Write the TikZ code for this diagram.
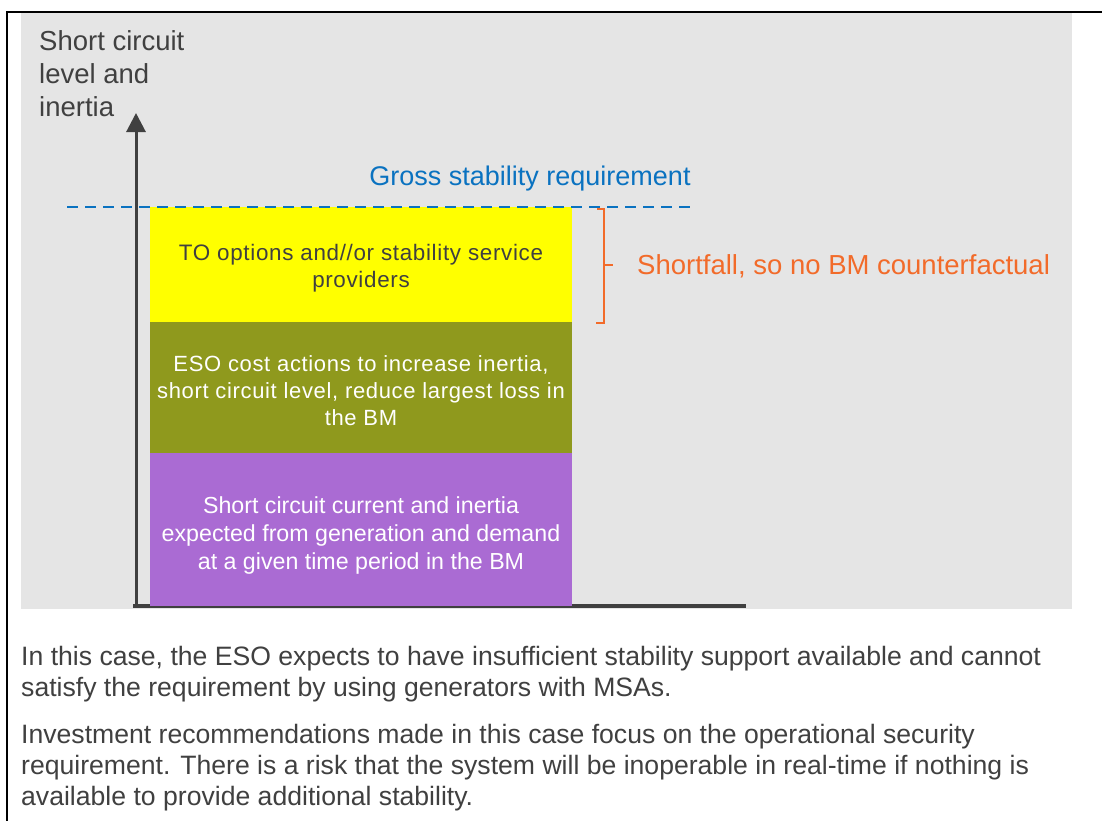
\documentclass[tikz,border=0pt]{standalone}
\usepackage{fontspec}
\setmainfont{Liberation Sans}
\newfontfamily\spacedfont[LetterSpace=3]{Liberation Sans}
\usetikzlibrary{arrows.meta}

\definecolor{panelgray}{HTML}{E5E5E5}
\definecolor{axisgray}{HTML}{404040}
\definecolor{textgray}{HTML}{404040}
\definecolor{reqblue}{HTML}{0A72C0}
\definecolor{gaporange}{HTML}{F26B2A}
\definecolor{bandyellow}{HTML}{FFFF00}
\definecolor{bandolive}{HTML}{8F991D}
\definecolor{bandpurple}{HTML}{AA6BD3}

\tikzset{
  band/.style={minimum width=422pt, inner sep=0pt, outer sep=0pt},
  bandtext/.style={align=center, inner sep=0pt},
  axisline/.style={draw=axisgray, line width=3pt},
  reqline/.style={draw=reqblue, line width=2pt, dash pattern=on 11pt off 7pt},
  gapbrace/.style={draw=gaporange, line width=2pt},
  bodytext/.style={anchor=north west, inner sep=0pt, align=left, text=textgray,
    font=\fontsize{26.6}{31}\selectfont}
}

\begin{document}
\begin{tikzpicture}[x=1pt, y=-1pt]
\useasboundingbox (0,0) rectangle (1102,820);
\fill[white] (0,0) rectangle (1102,820);

% frame and chart panel
\draw[line width=2pt] (7,821) -- (7,12) -- (1103,12);
\fill[panelgray] (21,13) rectangle (1072,609);

% axes
\coordinate (origin) at (136,606);
\coordinate (ytop) at (136,113);
\coordinate (xleft) at (133,606);
\coordinate (xend) at (746,606);
\draw[axisline, -{Triangle[width=19pt,length=19pt]}] (origin) -- (ytop);
\draw[draw=axisgray, line width=4pt] (xleft) -- (xend);

\node[anchor=north west, inner sep=0pt, align=left, text=textgray,
  font=\fontsize{27.5}{33}\selectfont] (ylabel) at (39,30.5)
  {Short circuit\\level and\\inertia};

% stacked bands
\node[band, fill=bandyellow, minimum height=116pt] (to) at (361,265) {};
\node[band, fill=bandolive, minimum height=131pt] (eso) at (361,387.5) {};
\node[band, fill=bandpurple, minimum height=153pt] (gen) at (361,529.5) {};

\node[bandtext, text=textgray, font=\spacedfont\fontsize{22.4}{27}\selectfont]
  (totext) at ([yshift=-3.5pt]to.center)
  {TO options and//or stability service\\providers};
\node[bandtext, text=white, font=\spacedfont\fontsize{22}{27}\selectfont]
  (esotext) at ([yshift=-3pt]eso.center)
  {ESO cost actions to increase inertia,\\short circuit level, reduce largest loss in\\the BM};
\node[bandtext, text=white, font=\fontsize{23.2}{28}\selectfont]
  (gentext) at ([yshift=-6pt]gen.center)
  {Short circuit current and inertia\\expected from generation and demand\\at a given time period in the BM};

% gross requirement
\coordinate (reqleft) at (67,207);
\coordinate (reqright) at (690,207);
\draw[reqline] (reqleft) -- (reqright);
\node[text=reqblue, font=\fontsize{27}{32}\selectfont] (gross) at (530,179)
  {Gross stability requirement};

% shortfall bracket
\coordinate (btop) at (597,209);
\coordinate (bbot) at (596,323);
\coordinate (bmid) at (604,265);
\coordinate (btick) at (613,265);
\draw[gapbrace] (btop) -- (604,209) -- (604,323) -- (bbot);
\draw[gapbrace] (bmid) -- (btick);
\node[anchor=west, inner sep=0pt, text=gaporange, font=\fontsize{27.5}{32}\selectfont]
  (short) at (637,266) {Shortfall, so no BM counterfactual};

% explanatory text
\node[bodytext] (para1) at (21,646)
  {In this case, the ESO expects to have insufficient stability support available and cannot\\
   satisfy the requirement by using generators with MSAs.};
\node[bodytext] (para2) at (21,724)
  {Investment recommendations made in this case focus on the operational security\\
   requirement. There is a risk that the system will be inoperable in real-time if nothing is\\
   available to provide additional stability.};
\end{tikzpicture}
\end{document}
